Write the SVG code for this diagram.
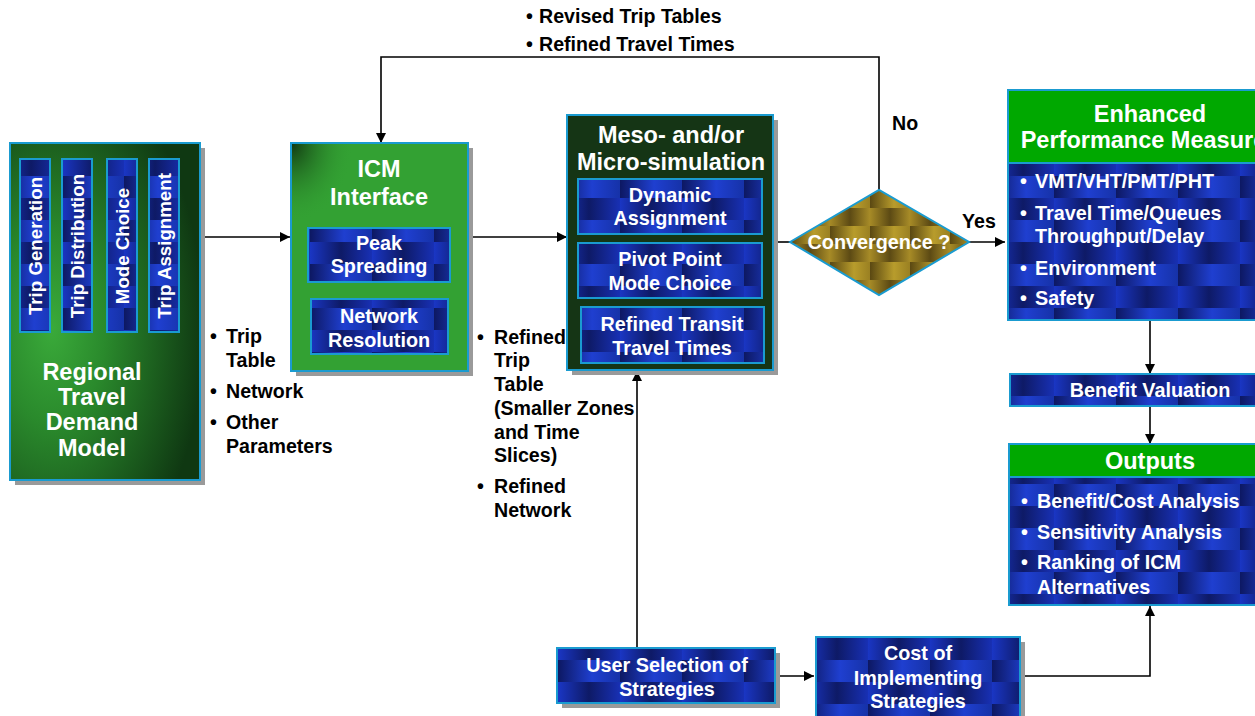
<svg xmlns="http://www.w3.org/2000/svg" width="1255" height="716" viewBox="0 0 1255 716">
  <defs>
    <!-- blue tile texture used by the process boxes -->
    <linearGradient id="bt1" x1="0" y1="0" x2="1" y2="0">
      <stop offset="0" stop-color="#0d1862"/>
      <stop offset="0.55" stop-color="#1f3fd0"/>
      <stop offset="1" stop-color="#1632a8"/>
    </linearGradient>
    <linearGradient id="bt2" x1="0" y1="0" x2="1" y2="0">
      <stop offset="0" stop-color="#1a36c4"/>
      <stop offset="0.5" stop-color="#0e1a66"/>
      <stop offset="1" stop-color="#1830b4"/>
    </linearGradient>
    <pattern id="blueTiles" x="0" y="0" width="62" height="44" patternUnits="userSpaceOnUse">
      <rect x="0" y="0" width="62" height="22" fill="url(#bt1)"/>
      <rect x="0" y="22" width="62" height="22" fill="url(#bt2)"/>
    </pattern>
    <!-- gold tile texture for the decision diamond -->
    <linearGradient id="gt1" x1="0" y1="0" x2="1" y2="0">
      <stop offset="0" stop-color="#5a4812"/>
      <stop offset="0.6" stop-color="#b89c2c"/>
      <stop offset="1" stop-color="#9a8022"/>
    </linearGradient>
    <linearGradient id="gt2" x1="0" y1="0" x2="1" y2="0">
      <stop offset="0" stop-color="#a68a26"/>
      <stop offset="0.5" stop-color="#5c4a14"/>
      <stop offset="1" stop-color="#a88c28"/>
    </linearGradient>
    <pattern id="goldTiles" x="790" y="190" width="40" height="36" patternUnits="userSpaceOnUse">
      <rect x="0" y="0" width="40" height="18" fill="url(#gt1)"/>
      <rect x="0" y="18" width="40" height="18" fill="url(#gt2)"/>
    </pattern>
    <radialGradient id="greenGlow" cx="0.22" cy="0.55" r="0.8">
      <stop offset="0" stop-color="#3aaa3a"/>
      <stop offset="0.35" stop-color="#2a8a2c"/>
      <stop offset="1" stop-color="#0f3812"/>
    </radialGradient>
    <radialGradient id="cornerShade" cx="0" cy="0" r="0.35">
      <stop offset="0" stop-color="#123a12"/>
      <stop offset="1" stop-color="#33a133" stop-opacity="0"/>
    </radialGradient>
    <marker id="arrow" viewBox="0 0 10 10" refX="10" refY="5" markerWidth="10" markerHeight="10" markerUnits="userSpaceOnUse" orient="auto">
      <path d="M0,0 L10,5 L0,10 z" fill="#000"/>
    </marker>
    <style>
      text { font-family: "Liberation Sans", Arial, sans-serif; font-weight: bold; }
      .title { font-size: 23.5px; text-anchor: middle; fill: #ffffff; }
      .inner { font-size: 19.8px; text-anchor: middle; fill: #ffffff; }
      .vert { font-size: 18.7px; text-anchor: middle; fill: #ffffff; }
      .lbl { font-size: 19.6px; fill: #000000; }
      .blt { font-size: 19.8px; fill: #ffffff; }
      .edge { stroke: #1a9bd0; stroke-width: 2; }
      .shadow { fill: #9a9a9a; }
      .tile { fill: url(#blueTiles); stroke: #1a9bd0; stroke-width: 2; }
      .conn { fill: none; stroke: #000; stroke-width: 1.6; }
    </style>
  </defs>

  <rect width="1255" height="716" fill="#ffffff"/>

  <!-- connectors -->
  <g id="connectors">
    <path class="conn" d="M200,237 H290" marker-end="url(#arrow)"/>
    <path class="conn" d="M468,237 H567" marker-end="url(#arrow)"/>
    <path class="conn" d="M773,242 H790"/>
    <path class="conn" d="M969,242 H1005" marker-end="url(#arrow)"/>
    <path class="conn" d="M879,190 V57 H381 V143" marker-end="url(#arrow)"/>
    <path class="conn" d="M1150,320 V374" marker-end="url(#arrow)"/>
    <path class="conn" d="M1150,406 V444" marker-end="url(#arrow)"/>
    <path class="conn" d="M637,648 V371" marker-end="url(#arrow)"/>
    <path class="conn" d="M775,676 H814" marker-end="url(#arrow)"/>
    <path class="conn" d="M1020,676 H1150 V606" marker-end="url(#arrow)"/>
  </g>

  <!-- connector labels -->
  <g id="labels">
    <text class="lbl" x="526" y="23">•</text>
    <text class="lbl" x="539" y="23">Revised Trip Tables</text>
    <text class="lbl" x="526" y="51">•</text>
    <text class="lbl" x="539" y="51">Refined Travel Times</text>
    <text class="lbl" x="892" y="130">No</text>
    <text class="lbl" x="962" y="228">Yes</text>

    <text class="lbl" x="210" y="343">•</text>
    <text class="lbl" x="226" y="343">Trip</text>
    <text class="lbl" x="226" y="367">Table</text>
    <text class="lbl" x="210" y="398">•</text>
    <text class="lbl" x="226" y="398">Network</text>
    <text class="lbl" x="210" y="429">•</text>
    <text class="lbl" x="226" y="429">Other</text>
    <text class="lbl" x="226" y="453">Parameters</text>

    <text class="lbl" x="477" y="344">•</text>
    <text class="lbl" x="494" y="344">Refined</text>
    <text class="lbl" x="494" y="367">Trip</text>
    <text class="lbl" x="494" y="391">Table</text>
    <text class="lbl" x="494" y="415">(Smaller Zones</text>
    <text class="lbl" x="494" y="439">and Time</text>
    <text class="lbl" x="494" y="462">Slices)</text>
    <text class="lbl" x="477" y="493">•</text>
    <text class="lbl" x="494" y="493">Refined</text>
    <text class="lbl" x="494" y="517">Network</text>
  </g>

  <!-- Regional Travel Demand Model -->
  <g id="regional-model">
    <rect class="shadow" x="15" y="148" width="190" height="337"/>
    <rect class="edge" x="10" y="143" width="190" height="337" fill="url(#greenGlow)"/>
    <rect class="tile" x="20" y="159" width="30" height="173"/>
    <rect class="tile" x="62" y="159" width="30" height="173"/>
    <rect class="tile" x="107" y="159" width="30" height="173"/>
    <rect class="tile" x="149" y="159" width="30" height="173"/>
    <text class="vert" transform="translate(41.5,246) rotate(-90)">Trip Generation</text>
    <text class="vert" transform="translate(83.5,246) rotate(-90)">Trip Distribution</text>
    <text class="vert" transform="translate(128.5,246) rotate(-90)">Mode Choice</text>
    <text class="vert" transform="translate(170.5,246) rotate(-90)">Trip Assignment</text>
    <text class="title" x="92" y="380">Regional</text>
    <text class="title" x="92" y="405">Travel</text>
    <text class="title" x="92" y="430">Demand</text>
    <text class="title" x="92" y="456">Model</text>
  </g>

  <!-- ICM Interface -->
  <g id="icm-interface">
    <rect class="shadow" x="296" y="148" width="177" height="228"/>
    <rect class="edge" x="291" y="143" width="177" height="228" fill="#33a133"/>
    <rect x="292" y="144" width="175" height="226" fill="url(#cornerShade)"/>
    <text class="title" x="379" y="177">ICM</text>
    <text class="title" x="379" y="205">Interface</text>
    <rect class="tile" x="308" y="228" width="142" height="54"/>
    <text class="inner" x="379" y="250">Peak</text>
    <text class="inner" x="379" y="273">Spreading</text>
    <rect class="tile" x="311" y="299" width="137" height="55"/>
    <text class="inner" x="379" y="323">Network</text>
    <text class="inner" x="379" y="347">Resolution</text>
  </g>

  <!-- Meso- and/or Micro-simulation -->
  <g id="simulation">
    <rect class="shadow" x="572" y="120" width="206" height="255"/>
    <rect class="edge" x="567" y="115" width="206" height="255" fill="#153515"/>
    <text class="title" x="671" y="143">Meso- and/or</text>
    <text class="title" x="671" y="170">Micro-simulation</text>
    <rect class="tile" x="578" y="179" width="184" height="55"/>
    <text class="inner" x="670" y="202">Dynamic</text>
    <text class="inner" x="670" y="225">Assignment</text>
    <rect class="tile" x="578" y="243" width="184" height="55"/>
    <text class="inner" x="670" y="266">Pivot Point</text>
    <text class="inner" x="670" y="290">Mode Choice</text>
    <rect class="tile" x="581" y="307" width="183" height="56"/>
    <text class="inner" x="672" y="331">Refined Transit</text>
    <text class="inner" x="672" y="355">Travel Times</text>
  </g>

  <!-- Convergence decision -->
  <g id="convergence">
    <polygon points="790,242 879,190 969,242 879,295" fill="url(#goldTiles)" stroke="#1a9bd0" stroke-width="2"/>
    <text class="inner" x="879" y="249">Convergence ?</text>
  </g>

  <!-- Enhanced Performance Measures -->
  <g id="performance-measures">
    <rect class="tile" x="1008" y="90" width="262" height="230"/>
    <rect class="edge" x="1008" y="90" width="262" height="73" fill="#00a800"/>
    <text class="title" x="1150" y="122">Enhanced</text>
    <text class="title" x="1150" y="148">Performance Measures</text>
    <text class="blt" x="1020" y="188">•</text>
    <text class="blt" x="1035" y="188">VMT/VHT/PMT/PHT</text>
    <text class="blt" x="1020" y="220">•</text>
    <text class="blt" x="1035" y="220">Travel Time/Queues</text>
    <text class="blt" x="1035" y="243">Throughput/Delay</text>
    <text class="blt" x="1020" y="275">•</text>
    <text class="blt" x="1035" y="275">Environment</text>
    <text class="blt" x="1020" y="305">•</text>
    <text class="blt" x="1035" y="305">Safety</text>
  </g>

  <!-- Benefit Valuation -->
  <g id="benefit-valuation">
    <rect class="tile" x="1010" y="374" width="260" height="32"/>
    <text class="inner" x="1150" y="397">Benefit Valuation</text>
  </g>

  <!-- Outputs -->
  <g id="outputs">
    <rect class="tile" x="1009" y="444" width="261" height="161"/>
    <rect class="edge" x="1009" y="444" width="261" height="33" fill="#00a800"/>
    <text class="title" x="1150" y="469">Outputs</text>
    <text class="blt" x="1021" y="508">•</text>
    <text class="blt" x="1037" y="508">Benefit/Cost Analysis</text>
    <text class="blt" x="1021" y="539">•</text>
    <text class="blt" x="1037" y="539">Sensitivity Analysis</text>
    <text class="blt" x="1021" y="569">•</text>
    <text class="blt" x="1037" y="569">Ranking of ICM</text>
    <text class="blt" x="1037" y="594">Alternatives</text>
  </g>

  <!-- User Selection of Strategies -->
  <g id="user-selection">
    <rect class="shadow" x="562" y="653" width="218" height="55"/>
    <rect class="tile" x="557" y="648" width="218" height="55"/>
    <text class="inner" x="667" y="672">User Selection of</text>
    <text class="inner" x="667" y="696">Strategies</text>
  </g>

  <!-- Cost of Implementing Strategies -->
  <g id="implementation-cost">
    <rect class="shadow" x="821" y="642" width="204" height="82"/>
    <rect class="tile" x="816" y="637" width="204" height="82"/>
    <text class="inner" x="918" y="660">Cost of</text>
    <text class="inner" x="918" y="685">Implementing</text>
    <text class="inner" x="918" y="708">Strategies</text>
  </g>
</svg>
